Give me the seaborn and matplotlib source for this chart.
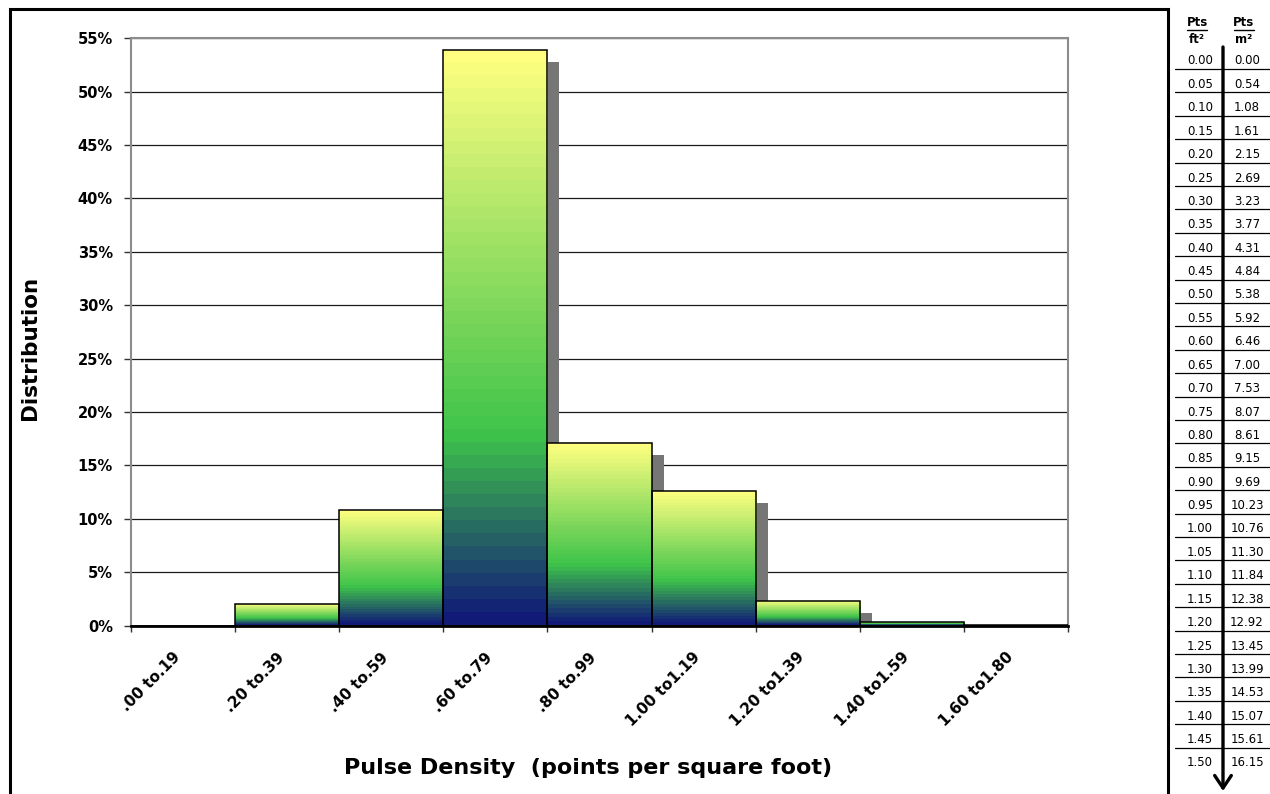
import numpy as np
import matplotlib
matplotlib.use("Agg")
import matplotlib.pyplot as plt
import seaborn as sns
from matplotlib.colors import LinearSegmentedColormap
from matplotlib.patches import Rectangle, FancyArrowPatch
from matplotlib.lines import Line2D
from matplotlib.ticker import PercentFormatter, FixedLocator
from matplotlib.transforms import ScaledTranslation

# Histogram data (share of the area in each pulse density bin)
bin_labels = [".00 to.19", ".20 to.39", ".40 to.59", ".60 to.79", ".80 to.99",
              "1.00 to1.19", "1.20 to1.39", "1.40 to1.59", "1.60 to1.80"]
share = [0.0, 0.020, 0.108, 0.539, 0.171, 0.126, 0.023, 0.003, 0.0005]

# Conversion table on the right side
pts_ft2 = ["0.00", "0.05", "0.10", "0.15", "0.20", "0.25", "0.30", "0.35", "0.40",
           "0.45", "0.50", "0.55", "0.60", "0.65", "0.70", "0.75", "0.80", "0.85",
           "0.90", "0.95", "1.00", "1.05", "1.10", "1.15", "1.20", "1.25", "1.30",
           "1.35", "1.40", "1.45", "1.50"]
pts_m2 = ["0.00", "0.54", "1.08", "1.61", "2.15", "2.69", "3.23", "3.77", "4.31",
          "4.84", "5.38", "5.92", "6.46", "7.00", "7.53", "8.07", "8.61", "9.15",
          "9.69", "10.23", "10.76", "11.30", "11.84", "12.38", "12.92", "13.45", "13.99",
          "14.53", "15.07", "15.61", "16.15"]

W, H = 1270, 794

sns.set_style("white")
plt.rcParams["font.family"] = ["DejaVu Sans"]
plt.rcParams["text.color"] = "black"
plt.rcParams["axes.labelcolor"] = "black"
plt.rcParams["xtick.color"] = "black"
plt.rcParams["ytick.color"] = "black"

fig = plt.figure(figsize=(W / 100, H / 100), dpi=100)
ax = fig.add_axes([131 / W, 168.5 / H, 937 / W, 587.2 / H])

sns.barplot(x=bin_labels, y=share, width=1, color="#3fc44a", ax=ax)

# excel style gradient fill + drop shadow for each bar
cmap = LinearSegmentedColormap.from_list(
    "excel", [(0, "#121a78"), (0.33, "#3fc44a"), (1, "#ffff80")])
grad = np.linspace(0, 1, 44).reshape(-1, 1)
shift = ScaledTranslation(12 / 100, -12 / 100, fig.dpi_scale_trans)
bars = list(ax.patches)
for p in bars:
    x0, w, h = p.get_x(), p.get_width(), p.get_height()
    shadow = Rectangle((x0, 0), w, h, facecolor="#767676", edgecolor="none",
                       zorder=2, transform=ax.transData + shift)
    ax.add_patch(shadow)
    if h > 0:
        im = ax.imshow(grad, cmap=cmap, origin="lower", extent=(x0, x0 + w, 0, h),
                       aspect="auto", interpolation="nearest", zorder=3)
        im.set_clip_path(p)
    p.set_facecolor("none")
    p.set_edgecolor("black")
    p.set_linewidth(1.1)
    p.set_zorder(4)

ax.set_xlim(-0.5, len(bin_labels) - 0.5)
ax.set_ylim(0, 0.55)
ax.set_yticks(np.arange(0, 0.551, 0.05))
ax.yaxis.set_major_formatter(PercentFormatter(1, decimals=0))

ax.set_axisbelow(True)
ax.yaxis.grid(True, color="#1a1a1a", lw=0.9)
ax.xaxis.grid(False)

for side in ["left", "top", "right"]:
    ax.spines[side].set_color("#8c8c8c")
    ax.spines[side].set_linewidth(1.5)
ax.spines["bottom"].set_color("black")
ax.spines["bottom"].set_linewidth(2)

ax.xaxis.set_major_locator(FixedLocator(range(len(bin_labels))))
ax.set_xticklabels(bin_labels, rotation=45, ha="right", fontsize=11, fontweight="bold")
ax.set_xticks(np.arange(-0.5, len(bin_labels), 1), minor=True)
ax.tick_params(axis="x", which="major", length=0, pad=17.5)
ax.tick_params(axis="x", which="minor", direction="out", length=4, width=1, color="#333333", bottom=True)
ax.tick_params(axis="y", direction="out", length=5, width=1, color="#333333", pad=8,
               labelsize=10.5, left=True)
for t in ax.get_yticklabels():
    t.set_fontweight("bold")

ax.set_xlabel("Pulse Density  (points per square foot)", fontsize=16, fontweight="bold")
ax.xaxis.set_label_coords(0.488, -0.225)
ax.set_ylabel("Distribution", fontsize=15.5, fontweight="bold")
ax.yaxis.set_label_coords(-0.097, 0.473)


def fx(x):
    return x / W


def fy(y):
    return 1 - y / H


# outer frame of the chart
fig.add_artist(Rectangle((fx(9.5), -0.05), fx(1167.5) - fx(9.5), fy(8.5) + 0.05,
                         transform=fig.transFigure, fill=False, ec="black", lw=2.2))

# conversion table
for cx, unit in [(1197, "ft²"), (1244, "m²")]:
    fig.text(fx(cx), fy(23), "Pts", ha="center", va="center", fontsize=8.5,
             fontweight="bold")
    fig.add_artist(Line2D([fx(cx - 10), fx(cx + 10)], [fy(29.5), fy(29.5)],
                          transform=fig.transFigure, color="black", lw=1))
    fig.text(fx(cx), fy(39.5), unit, ha="center", va="center", fontsize=8.5,
             fontweight="bold")

for i, (a, b) in enumerate(zip(pts_ft2, pts_m2)):
    ry = 61 + 23.4 * i
    fig.text(fx(1200), fy(ry), a, ha="center", va="center", fontsize=8.5)
    fig.text(fx(1247), fy(ry), b, ha="center", va="center", fontsize=8.5)
    if i < len(pts_ft2) - 1:
        fig.add_artist(Line2D([fx(1175), fx(1270)], [fy(ry + 8), fy(ry + 8)],
                              transform=fig.transFigure, color="black", lw=0.9))

fig.add_artist(FancyArrowPatch((fx(1223), fy(47)), (fx(1223), fy(791)),
                               transform=fig.transFigure, color="black", lw=2.4,
                               arrowstyle="->,head_length=0.45,head_width=0.3",
                               mutation_scale=20, shrinkA=0, shrinkB=0))

fig.savefig("out.png", dpi=100)
